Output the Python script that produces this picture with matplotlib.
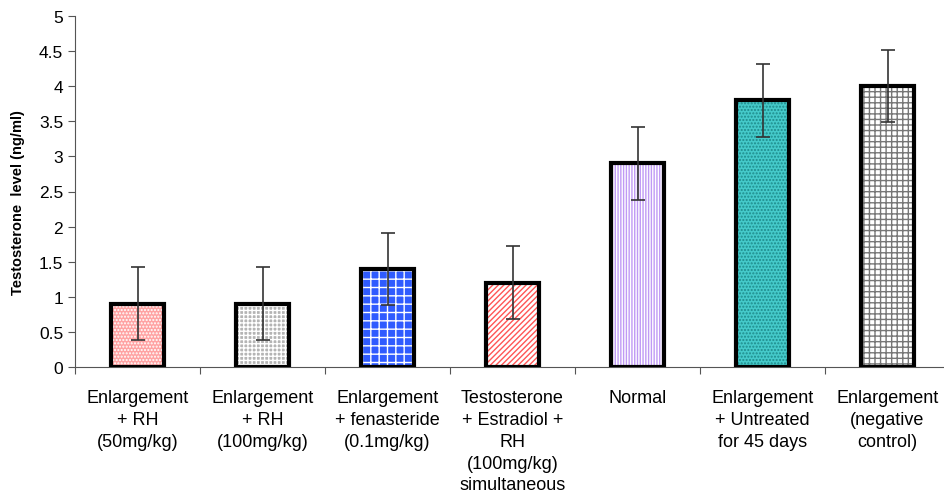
import numpy as np
import matplotlib.pyplot as plt

plt.rcParams['font.family'] = ['Liberation Sans', 'DejaVu Sans']
plt.rcParams['hatch.linewidth'] = 1.0

groups = ['Enlargement\n+ RH\n(50mg/kg)', 'Enlargement\n+ RH\n(100mg/kg)',
          'Enlargement\n+ fenasteride\n(0.1mg/kg)',
          'Testosterone\n+ Estradiol +\nRH\n(100mg/kg)\nsimultaneous',
          'Normal', 'Enlargement\n+ Untreated\nfor 45 days',
          'Enlargement\n(negative\ncontrol)']
level = [0.9, 0.9, 1.4, 1.2, 2.9, 3.8, 4.0]
err = [0.52, 0.52, 0.51, 0.52, 0.52, 0.52, 0.51]

fills = ['#FFA3A3', '#B4B4B4', '#2F5BFF', 'white', 'white', '#45CACA', 'white']
hatch_cols = ['#FFFFFF', '#FFFFFF', '#FFFFFF', '#FF5555', '#C09AF5', '#1E8C8C', '#777777']
hatches = ['.....', '++++', '++', '//////', '||||||', '.....', '+++']

fig = plt.figure(figsize=(9.44, 5.02), dpi=100)
ax = fig.add_axes([75/944, 134/502, 875/944, 351/502])

x = np.arange(len(level))
for i in range(len(level)):
    ax.bar(x[i], level[i], width=0.42, color=fills[i], hatch=hatches[i],
           edgecolor=hatch_cols[i], linewidth=0, zorder=2)
ax.bar(x, level, width=0.42, fill=False, edgecolor='black', linewidth=3, zorder=3)
ax.errorbar(x, level, yerr=err, fmt='none', ecolor='#333333', elinewidth=1.2,
            capsize=5, capthick=1.2, zorder=4)

ax.set_xlim(-0.5, len(level) - 0.5)
ax.set_ylim(0, 5)
ax.set_yticks(np.arange(0, 5.01, 0.5))
ax.set_yticklabels(['0', '0.5', '1', '1.5', '2', '2.5', '3', '3.5', '4', '4.5', '5'])
ax.tick_params(axis='y', labelsize=12.5, length=5, direction='out', color='#555555')

ax.set_xticks(np.arange(-0.5, len(level), 1.0))
ax.set_xticklabels([])
ax.tick_params(axis='x', which='major', length=5, direction='out', color='#555555')
ax.set_xticks(x, minor=True)
ax.set_xticklabels(groups, minor=True, fontsize=13, linespacing=1.37)
ax.tick_params(axis='x', which='minor', length=0, pad=16)

ax.spines['top'].set_visible(False)
ax.spines['right'].set_visible(False)
ax.spines['left'].set_color('#555555')
ax.spines['bottom'].set_color('#555555')

ax.set_ylabel('Testosterone  level (ng/ml)', fontsize=10.5, fontweight='bold')
ax.yaxis.set_label_coords(-0.057, 0.47)

fig.savefig('out.png', dpi=100)
